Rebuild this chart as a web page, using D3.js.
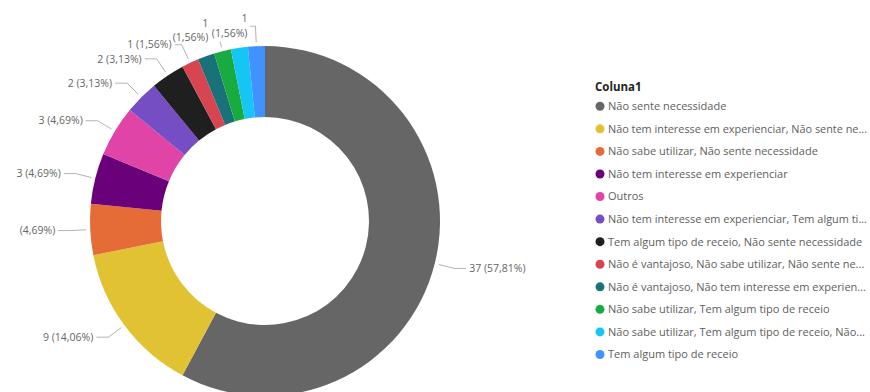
<!DOCTYPE html>
<html><head><meta charset="utf-8">
<script src="https://cdn.jsdelivr.net/npm/d3@7"></script>
<style>body{margin:0;background:#fff} svg{display:block}</style>
</head><body>
<svg id="c" width="870" height="392"></svg>
<script>
const legendTitle = "Coluna1";
const categories = [
  "Não sente necessidade",
  "Não tem interesse em experienciar, Não sente ne...",
  "Não sabe utilizar, Não sente necessidade",
  "Não tem interesse em experienciar",
  "Outros",
  "Não tem interesse em experienciar, Tem algum ti...",
  "Tem algum tipo de receio, Não sente necessidade",
  "Não é vantajoso, Não sabe utilizar, Não sente ne...",
  "Não é vantajoso, Não tem interesse em experien...",
  "Não sabe utilizar, Tem algum tipo de receio",
  "Não sabe utilizar, Tem algum tipo de receio, Não...",
  "Tem algum tipo de receio"
];
const values = [37, 9, 3, 3, 3, 2, 2, 1, 1, 1, 1, 1];
const colors = ["#666666","#E1C233","#E66C37","#6B007B","#E044A7","#744EC2",
                "#1F1F1F","#D64550","#197278","#1AAB40","#15C6F4","#4092FF"];
// data labels as displayed (Power BI hid/truncated some)
const dataLabelText = ["37 (57,81%)","9 (14,06%)","(4,69%)","3 (4,69%)","3 (4,69%)",
  "2 (3,13%)","2 (3,13%)","1 (1,56%)","1|(1,56%)","","","1|(1,56%)"];

const svg = d3.select("#c");
const FONT = "'Segoe UI', 'Open Sans', sans-serif";
const LFS = 10.5;
const cx = 265, cy = 221, R = 175, r0 = 104;
const data = categories.map((c,i)=>({cat:c, value:values[i], color:colors[i], label:dataLabelText[i], i}));
const pie = d3.pie().value(d=>d.value).sort(null).startAngle(0).endAngle(2*Math.PI);
const arcs = pie(data);
const arc = d3.arc().innerRadius(r0).outerRadius(R);
const g = svg.append("g").attr("transform",`translate(${cx},${cy})`);
g.selectAll("path.s").data(arcs).join("path").attr("class","s")
  .attr("d",arc).attr("fill",d=>d.data.color);

const polar = (rad,a)=>[rad*Math.sin(a), -rad*Math.cos(a)];
const lab = g.append("g");
arcs.forEach(d=>{
  const i = d.data.i;
  const a = (d.startAngle+d.endAngle)/2;
  const side = Math.sin(a) >= 0 ? 1 : -1;
  const p0 = polar(R+4,a), p1 = polar(R+20,a);
  const txt = d.data.label;
  const lines = txt ? txt.split("|") : [];
  const lc = "#b3b3b3";
  if (i === 8) {
    const t = lab.append("text").attr("text-anchor","end").attr("font-family",FONT)
      .attr("font-size",LFS).attr("fill","#666");
    lines.forEach((s,k)=>t.append("tspan").attr("x",p1[0]+9).attr("y",p1[1]-14*(lines.length-1-k)).attr("dy","0.35em").text(s));
    return;
  }
  if (i === 9) {
    const pe = polar(R+10,a);
    lab.append("path").attr("d",d3.line()([p0,pe])).attr("stroke",lc).attr("fill","none");
    return;
  }
  if (!txt) return;
  const hlen = lines.length > 1 ? 5 : (i === 7 ? 7 : 12);
  const p2 = [p1[0]+side*hlen, p1[1]];
  lab.append("path").attr("d",d3.line()([p0,p1,p2])).attr("stroke",lc).attr("fill","none");
  const t = lab.append("text").attr("text-anchor", side>0?"start":"end")
    .attr("font-family",FONT).attr("font-size",LFS).attr("fill","#666");
  const off = (lines.length-1)*15/2;
  lines.forEach((s,k)=>t.append("tspan").attr("x",p2[0]+side*3).attr("y",p2[1]-off+15*k).attr("dy","0.35em").text(s));
});

// legend
const lg = svg.append("g").attr("transform","translate(595,0)");
lg.append("text").attr("x",0).attr("y",87).attr("dy","0.35em").attr("font-family",FONT)
  .attr("font-weight","bold").attr("font-size",11.5).attr("fill","#252423").text(legendTitle);
const ly = d3.scalePoint().domain(d3.range(categories.length)).range([106.3, 354.5]);
const items = lg.selectAll("g.it").data(data).join("g").attr("class","it")
  .attr("transform",d=>`translate(0,${ly(d.i)})`);
items.append("circle").attr("cx",5).attr("cy",0).attr("r",4.5).attr("fill",d=>d.color);
const maxW = 870 - 595 - 13 - 3;
items.append("text").attr("x",13).attr("y",0).attr("dy","0.35em").attr("font-family",FONT)
  .attr("font-size",11).attr("fill","#605E5C").text(d=>d.cat)
  .each(function(){
    if (this.getComputedTextLength() > maxW) {
      d3.select(this).attr("textLength",maxW).attr("lengthAdjust","spacingAndGlyphs");
    }
  });
</script>
</body></html>
